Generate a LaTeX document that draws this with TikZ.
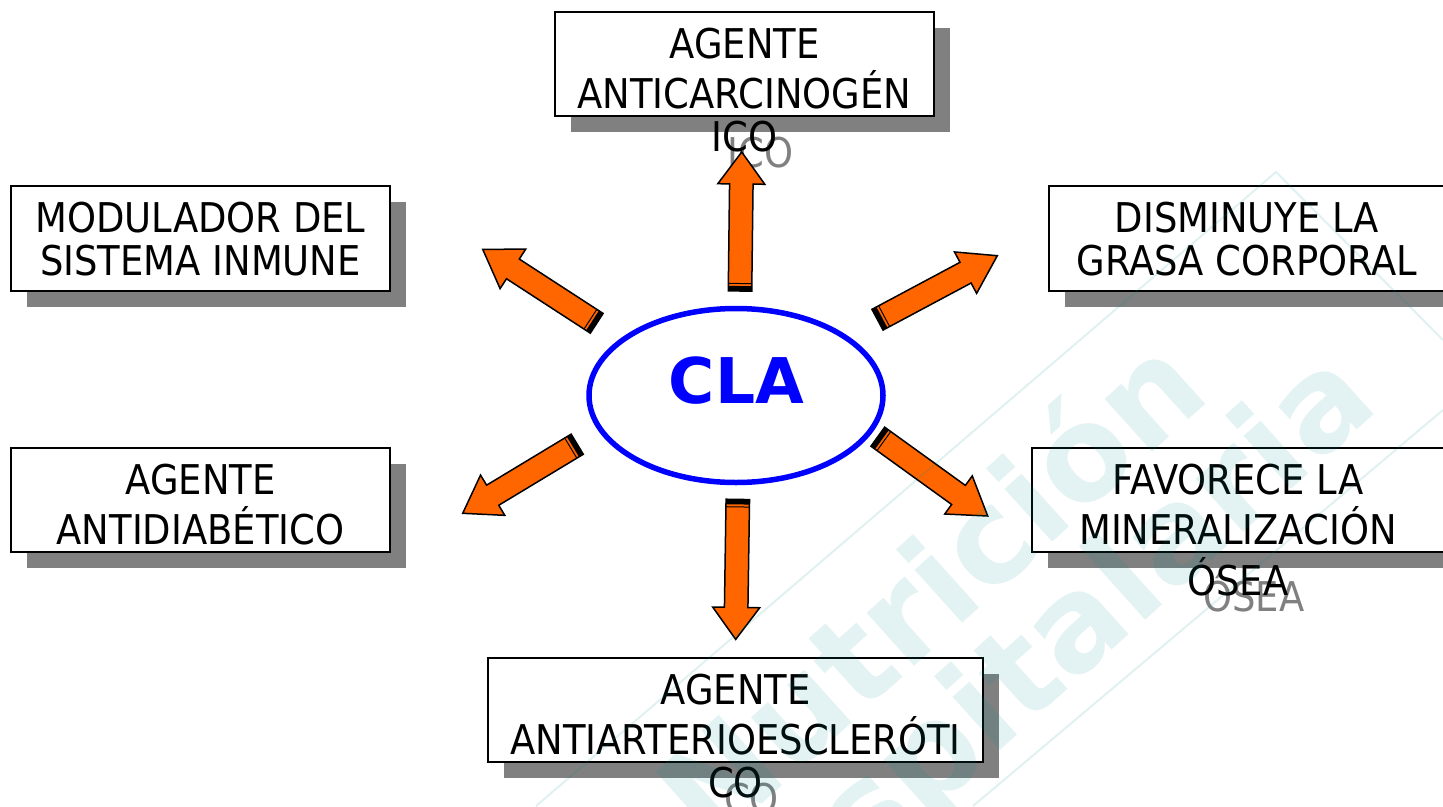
\documentclass[tikz,border=0pt]{standalone}
\usepackage{fontspec}
\setmainfont{DejaVu Sans}[FakeStretch=0.9]
\newfontfamily\clafont{DejaVu Sans}
\newfontfamily\wmfont{DejaVu Sans}
\usetikzlibrary{calc,shapes.geometric,shadows}
\definecolor{arroworange}{RGB}{255,102,0}
\definecolor{shadowgray}{RGB}{128,128,128}
\definecolor{clablue}{RGB}{0,0,255}
\definecolor{wmteal}{RGB}{0,140,140}
\newcommand\boxlines[1]{\begin{tabular}[t]{@{}c@{}}#1\end{tabular}}
\newcommand\BlockArrow[4]{%
  \coordinate (#1-t) at #2;
  \coordinate (#1-p) at #3;
  \coordinate (#1-b) at ($(#1-p)!#4!(#1-t)$);
  \coordinate (#1-k) at ($(#1-t)!5pt!(#1-p)$);
  \coordinate (#1-m) at ($(#1-t)!7.5pt!(#1-p)$);
  \draw[blockarrow] ($(#1-t)!11.75pt!90:(#1-p)$) -- ($(#1-b)!11.75pt!90:(#1-p)$)
    -- ($(#1-b)!23.5pt!90:(#1-p)$) -- (#1-p) -- ($(#1-b)!23.5pt!-90:(#1-p)$)
    -- ($(#1-b)!11.75pt!-90:(#1-p)$) -- ($(#1-t)!11.75pt!-90:(#1-p)$) -- cycle;
  \fill[black] ($(#1-t)!11.75pt!90:(#1-p)$) -- ($(#1-k)!11.75pt!90:(#1-p)$)
    -- ($(#1-k)!11.75pt!-90:(#1-p)$) -- ($(#1-t)!11.75pt!-90:(#1-p)$) -- cycle;
  \draw[black,line width=1pt] ($(#1-m)!11.75pt!90:(#1-p)$) -- ($(#1-m)!11.75pt!-90:(#1-p)$);
}
\begin{document}
\begin{tikzpicture}[x=1pt,y=-1pt,
  box/.style={rectangle,draw=black,line width=1.8pt,fill=white,inner sep=0pt,
    drop shadow={shadow xshift=16pt,shadow yshift=-16pt,opacity=1,fill=shadowgray}},
  txt/.style={anchor=base,inner sep=0pt,text=black,font=\fontsize{41}{42.5}\selectfont},
  stxt/.style={txt,text=shadowgray},
  blockarrow/.style={draw=black,line width=1.5pt,fill=arroworange,line join=miter},
  wm/.style={anchor=base,inner sep=0pt,text=wmteal,text opacity=0.11,font=\wmfont\bfseries\fontsize{130}{130}\selectfont},
  wmline/.style={draw=wmteal,draw opacity=0.12,line width=2pt}]
\useasboundingbox (0,0) rectangle (1443,806);
\clip (0,0) rectangle (1443,806);
\fill[white] (0,0) rectangle (1443,806);

% text anchor points
\coordinate (t1) at (744.5,58);
\coordinate (t2) at (200.5,232);
\coordinate (t3) at (1247,232);
\coordinate (t4) at (200.5,494);
\coordinate (t5) at (1238,494);
\coordinate (t6) at (735.5,704);

% shadow copies of the texts
\node[stxt] (s1) at ([xshift=16pt,yshift=-16pt]t1) {\boxlines{AGENTE\\ANTICARCINOGÉN\\ICO}};
\node[stxt] (s5) at ([xshift=16pt,yshift=-16pt]t5) {\boxlines{FAVORECE LA\\MINERALIZACIÓN\\ÓSEA}};
\node[stxt] (s6) at ([xshift=16pt,yshift=-16pt]t6) {\boxlines{AGENTE\\ANTIARTERIOESCLERÓTI\\CO}};

% boxes
\node[box,minimum width=379pt,minimum height=104pt] (b1) at (744.5,64) {};
\node[box,minimum width=379pt,minimum height=105pt] (b2) at (200.5,238.5) {};
\node[box,minimum width=396pt,minimum height=105pt] (b3) at (1247,238.5) {};
\node[box,minimum width=379pt,minimum height=104pt] (b4) at (200.5,500) {};
\node[box,minimum width=412pt,minimum height=104pt] (b5) at (1238,500) {};
\node[box,minimum width=495pt,minimum height=104pt] (b6) at (735.5,710) {};

% texts
\node[txt] (l1) at (t1) {\boxlines{AGENTE\\ANTICARCINOGÉN\\ICO}};
\node[txt] (l2) at (t2) {\boxlines{MODULADOR DEL\\SISTEMA INMUNE}};
\node[txt] (l3) at (t3) {\boxlines{DISMINUYE LA\\GRASA CORPORAL}};
\node[txt] (l4) at (t4) {\boxlines{AGENTE\\ANTIDIABÉTICO}};
\node[txt] (l5) at (t5) {\boxlines{FAVORECE LA\\MINERALIZACIÓN\\ÓSEA}};
\node[txt] (l6) at (t6) {\boxlines{AGENTE\\ANTIARTERIOESCLERÓTI\\CO}};

% centre
\node[ellipse,draw=clablue,line width=5.5pt,minimum width=294pt,minimum height=174pt,inner sep=0pt] (cla) at (736,395.5) {};
\node[anchor=base,inner sep=0pt,text=clablue,font=\clafont\bfseries\fontsize{63}{63}\selectfont] (clatext) at (736.5,403.5) {CLA};

% arrows
\BlockArrow{ua}{(740,291)}{(741.7,152)}{32pt}
\BlockArrow{da}{(737.8,499.4)}{(735.7,639.4)}{32pt}
\BlockArrow{ula}{(596.7,323.3)}{(482.7,249.3)}{36pt}
\BlockArrow{lla}{(577.2,444.2)}{(462.7,513.3)}{35pt}
\BlockArrow{ura}{(877.5,319.7)}{(997.3,255.7)}{36pt}
\BlockArrow{lra}{(877.8,436.7)}{(987.7,516)}{36pt}

% watermark
\draw[wmline] (536,806) -- (1276,172) -- (1443,340);
\draw[wmline] (973,806) -- (1443,410);
\node[wm,rotate=42] (wm1) at (962,624) {Nutrición};
\node[wm,rotate=42] (wm2) at (1050,706) {Hospitalaria};
\end{tikzpicture}
\end{document}
